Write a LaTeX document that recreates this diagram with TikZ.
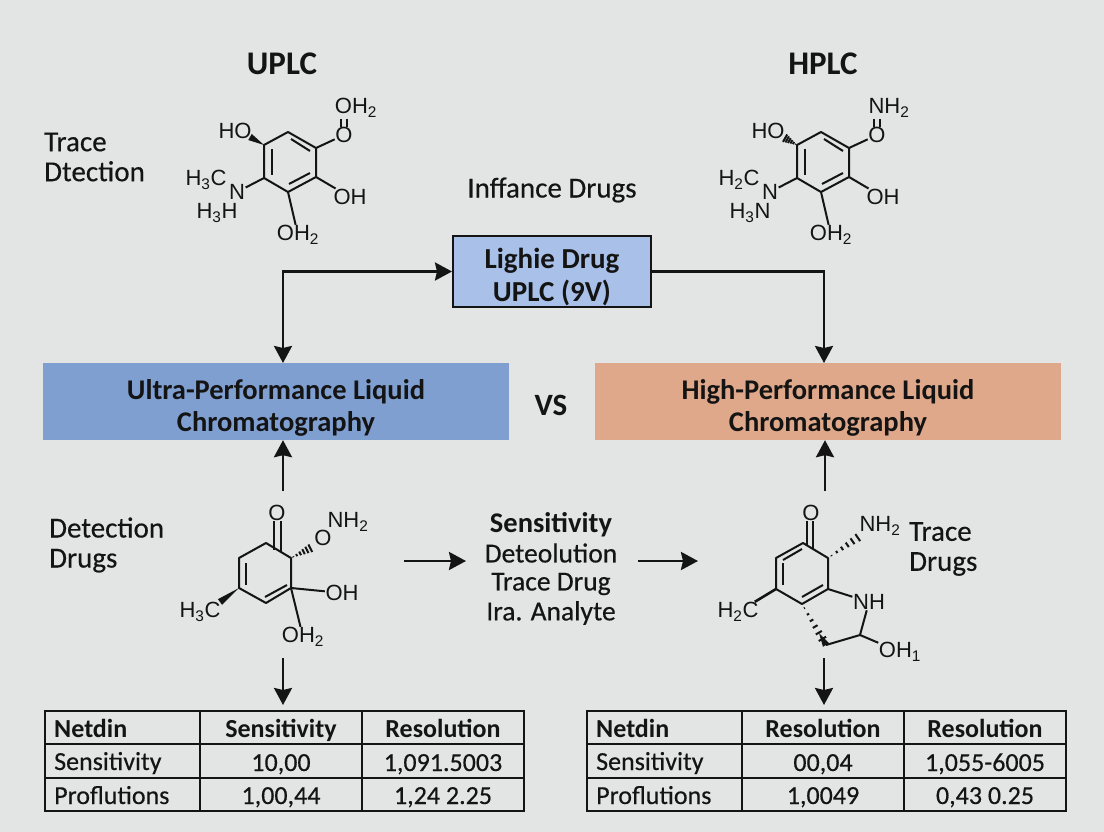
\documentclass[tikz,border=0pt]{standalone}
\usepackage{fontspec}
\setmainfont{Carlito}
\newfontfamily\chemfont{Liberation Sans}
\newfontfamily\medfont[FakeBold=0.4]{Carlito}
\usetikzlibrary{arrows.meta,calc}
\definecolor{paper}{HTML}{E3E4E4}
\definecolor{ink}{HTML}{141414}
\definecolor{bluebar}{HTML}{7F9FD1}
\definecolor{orangebar}{HTML}{E0A88A}
\definecolor{bluecard}{HTML}{A9C1E9}
\tikzset{
  flow/.style={ink,line width=2.6pt},
  grid/.style={ink,line width=2pt},
  bond/.style={ink,line width=2pt},
  atom/.style={inner sep=0.5pt,text=ink,font=\chemfont\fontsize{22}{24}\selectfont},
  heading/.style={inner sep=0pt,text=ink,font=\fontsize{33}{36}\bfseries\selectfont},
  sidetext/.style={inner sep=0pt,anchor=west,align=left,text=ink,font=\medfont\fontsize{29}{30}\selectfont},
  midtext/.style={inner sep=0pt,text=ink,font=\medfont\fontsize{27.5}{30}\selectfont},
  bartext/.style={inner sep=0pt,align=center,text=ink,font=\fontsize{28.5}{32}\bfseries\selectfont},
  rowhead/.style={inner sep=0pt,anchor=base west,text=ink,font=\medfont\fontsize{26}{28}\selectfont},
  colhead/.style={inner sep=0pt,anchor=base,text=ink,font=\fontsize{26}{28}\bfseries\selectfont},
  cell/.style={inner sep=0pt,anchor=base,text=ink,font=\medfont\fontsize{26}{28}\selectfont},
}
\newcommand{\hashbond}[2]{%
  \foreach \t in {0.1,0.25,0.4,0.55,0.7,0.85,1}{
    \draw[bond] ($(#1)!\t!(#2)!\t*5pt!90:(#2)$) -- ($(#1)!\t!(#2)!\t*5pt!-90:(#2)$);
  }}
\newcommand{\solidwedge}[2]{%
  \fill[ink] (#1) -- ($(#2)!3.5pt!90:(#1)$) -- ($(#2)!3.5pt!-90:(#1)$) -- cycle;}
% upper molecules: x shift, prefix, top label, two amine labels, wedge macro
\newcommand{\ringmol}[6]{%
\begin{scope}[shift={(#1,0)},name prefix=#2-]
\coordinate (r1) at (288,132);
\coordinate (r2) at (316,148);
\coordinate (r3) at (316,177);
\coordinate (r4) at (288,192);
\coordinate (r5) at (264,178);
\coordinate (r6) at (264,145);
\draw[bond,line join=round] (r1) -- (r2) -- (r3) -- (r4) -- (r5) -- (r6) -- cycle;
\coordinate (d1) at (272,149);
\coordinate (d2) at (272,175);
\coordinate (d3) at (291,139);
\coordinate (d4) at (310,151);
\coordinate (d5) at (289,184);
\coordinate (d6) at (310,173);
\draw[bond] (d1) -- (d2);
\draw[bond] (d3) -- (d4);
\draw[bond] (d5) -- (d6);
\node[atom] (ho) at (235,131) {HO};
\node[atom] (oa) at (344,135) {O};
\node[atom] (tl) at (356,108) {#3};
\node[atom] (oh) at (350,197) {OH};
\node[atom] (ob) at (298,235) {OH\textsubscript{2}};
\node[atom] (na) at (237,192) {N};
\node[atom] (ca) at (206,180) {#4};
\node[atom] (cb) at (217,213) {#5};
\draw[bond] (r2) -- (oa);
\draw[bond] (r3) -- (oh);
\draw[bond] (r4) -- (ob);
\draw[bond] (r5) -- (na);
\draw[bond] ([xshift=-3pt]oa.north) -- ([xshift=-3pt,yshift=-1pt]tl.south -| oa.north);
\draw[bond] ([xshift=3pt]oa.north) -- ([xshift=3pt,yshift=-1pt]tl.south -| oa.north);
\coordinate (hoend) at (250,137);
#6{r6}{hoend}
\end{scope}}
\newcommand{\drugtable}[7]{%
\begin{scope}[shift={(#1,0)},name prefix=#2-]
\draw[grid] (45,711) rectangle (524,811);
\foreach \xline in {200,362}{\draw[grid] (\xline,711) -- (\xline,811);}
\foreach \yline in {744,778}{\draw[grid] (45,\yline) -- (524,\yline);}
\node[rowhead,font=\fontsize{26}{28}\bfseries\selectfont] (corner) at (54,737) {Netdin};
\node[colhead] (colb) at (281,737) {#3};
\node[colhead] (colc) at (443,737) {Resolution};
\node[rowhead] (rowa) at (54,770) {Sensitivity};
\node[rowhead] (rowb) at (54,804) {Proflutions};
\node[cell] (vala) at (281,771) {#4};
\node[cell] (valb) at (443,771) {#5};
\node[cell] (valc) at (281,804) {#6};
\node[cell] (vald) at (443,804) {#7};
\end{scope}}
\begin{document}
\begin{tikzpicture}[>={Stealth[length=17pt,width=18pt,inset=2pt]},x=1pt,y=-1pt]
\useasboundingbox (0,0) rectangle (1104,832);
\fill[paper] (0,0) rectangle (1104,832);
% titles and side labels
\node[heading] (uplctitle) at (282,64) {UPLC};
\node[heading] (hplctitle) at (823,64) {HPLC};
\node[sidetext] (tracetop) at (44,157) {Trace\\Dtection};
\node[midtext,font=\medfont\fontsize{29}{30}\selectfont] (infance) at (552,190) {Inffance Drugs};
\node[sidetext] (detect) at (49,545) {Detection\\Drugs};
\node[sidetext] (tracelow) at (909,549) {Trace\\Drugs};
% boxes
\node[draw=ink,line width=2pt,fill=bluecard,minimum width=198pt,minimum height=71pt] (drug) at (552,271.5) {};
\node[bartext,font=\fontsize{29}{33}\bfseries\selectfont] (drugtext) at (552,277) {Lighie Drug\\UPLC (9V)};
\node[fill=bluebar,minimum width=466pt,minimum height=77pt] (uplcbar) at (276,401.5) {};
\node[bartext] (uplctext) at (276,407.5) {Ultra-Performance Liquid\\Chromatography};
\node[fill=orangebar,minimum width=466pt,minimum height=77pt] (hplcbar) at (828,401.5) {};
\node[bartext] (hplctext) at (828,407.5) {High-Performance Liquid\\Chromatography};
\node[heading,font=\fontsize{31}{34}\bfseries\selectfont] (vs) at (551,405) {VS};
% middle column
\node[midtext,font=\fontsize{28.5}{30}\bfseries\selectfont] (sens) at (551,525) {Sensitivity};
\node[midtext] (deteo) at (551,553) {Deteolution};
\node[midtext] (tdrug) at (551,584) {Trace Drug};
\node[midtext] (analyte) at (551,613) {Ira. Analyte};
% arrows
\coordinate (uplcin) at (283,363);
\coordinate (hplcin) at (824,363);
\draw[flow,<->] (drug.west) -| (uplcin);
\draw[flow,->] (drug.east) -| (hplcin);
\coordinate (uplcup) at (283,491);
\coordinate (hplcup) at (825,491);
\draw[flow,->] (uplcup) -- (uplcup |- uplcbar.south);
\draw[flow,->] (hplcup) -- (hplcup |- hplcbar.south);
\coordinate (lefta) at (404,561);
\coordinate (leftb) at (466,561);
\coordinate (righta) at (638,561);
\coordinate (rightb) at (698,561);
\draw[flow,->] (lefta) -- (leftb);
\draw[flow,->] (righta) -- (rightb);
\coordinate (uplcdown) at (283,658);
\coordinate (uplctab) at (283,705);
\coordinate (hplcdown) at (824,658);
\coordinate (hplctab) at (824,705);
\draw[flow,->] (uplcdown) -- (uplctab);
\draw[flow,->] (hplcdown) -- (hplctab);
% upper molecules
\ringmol{0}{ua}{OH\textsubscript{2}}{H\textsubscript{3}C}{H\textsubscript{3}H}{\solidwedge}
\ringmol{533}{ha}{NH\textsubscript{2}}{H\textsubscript{2}C}{H\textsubscript{3}N}{\hashbond}
% lower left molecule
\coordinate (a1) at (266,543);
\coordinate (a2) at (239,558);
\coordinate (a3) at (239,588);
\coordinate (a4) at (266,603);
\coordinate (a5) at (291,588);
\coordinate (a6) at (291,558);
\draw[bond,line join=round] (a1) -- (a2) -- (a3) -- (a4) -- (a5) -- (a6) -- cycle;
\coordinate (a7) at (246,563);
\coordinate (a8) at (246,585);
\coordinate (a9) at (265,597);
\coordinate (a10) at (287,585);
\draw[bond] (a7) -- (a8);
\draw[bond] (a9) -- (a10);
\node[atom] (ao) at (277,513) {O};
\node[atom] (aob) at (323,538) {O};
\node[atom] (anh) at (348,522) {NH\textsubscript{2}};
\node[atom] (aoh) at (342,593) {OH};
\node[atom] (aoc) at (303,637) {OH\textsubscript{2}};
\node[atom] (ach) at (200,612) {H\textsubscript{3}C};
\coordinate (acl) at (274,550);
\coordinate (acr) at (281,552);
\draw[bond] (acl) -- (acl |- ao.south);
\draw[bond] (acr) -- (acr |- ao.south);
\draw[bond] (a5) -- (aoh);
\draw[bond] (a5) -- (aoc);
\hashbond{a6}{aob.south west}
\coordinate (awedge) at (220,602);
\solidwedge{a3}{awedge}
% lower right molecule
\coordinate (b1) at (803,543);
\coordinate (b2) at (776,558);
\coordinate (b3) at (776,589);
\coordinate (b4) at (802,604);
\coordinate (b5) at (828,589);
\coordinate (b6) at (828,558);
\draw[bond,line join=round] (b1) -- (b2) -- (b3) -- (b4) -- (b5) -- (b6) -- cycle;
\coordinate (b7) at (783,563);
\coordinate (b8) at (783,585);
\coordinate (b9) at (783,560);
\coordinate (b10) at (802,549);
\coordinate (b11) at (802,597);
\coordinate (b12) at (823,585);
\draw[bond] (b7) -- (b8);
\draw[bond] (b9) -- (b10);
\draw[bond] (b11) -- (b12);
\node[atom] (bo) at (811,513) {O};
\node[atom] (bnh) at (880,526) {NH\textsubscript{2}};
\node[atom] (bnr) at (869,602) {NH};
\node[atom] (boh) at (900,652) {OH\textsubscript{1}};
\node[atom] (bch) at (738,612) {H\textsubscript{2}C};
\coordinate (bcl) at (807,546);
\coordinate (bcr) at (813,549);
\draw[bond] (bcl) -- (bcl |- bo.south);
\draw[bond] (bcr) -- (bcr |- bo.south);
\coordinate (bhash) at (863,534);
\hashbond{b6}{bhash}
\draw[bond] (b5) -- (bnr);
\coordinate (bfoot) at (826,645);
\coordinate (bknee) at (860,635);
\coordinate (bblob) at (819,633);
\hashbond{b4}{bfoot}
\solidwedge{bblob}{bfoot}
\draw[bond] (bfoot) -- (bknee);
\draw[bond] (bnr) -- (bknee);
\draw[bond] (bknee) -- (boh);
\draw[flow] (b3) -- (bch);
% tables
\drugtable{0}{ut}{Sensitivity}{10,00}{1,091.5003}{1,00,44}{1,24 2.25}
\drugtable{542}{ht}{Resolution}{00,04}{1,055-6005}{1,0049}{0,43 0.25}
\end{tikzpicture}
\end{document}
